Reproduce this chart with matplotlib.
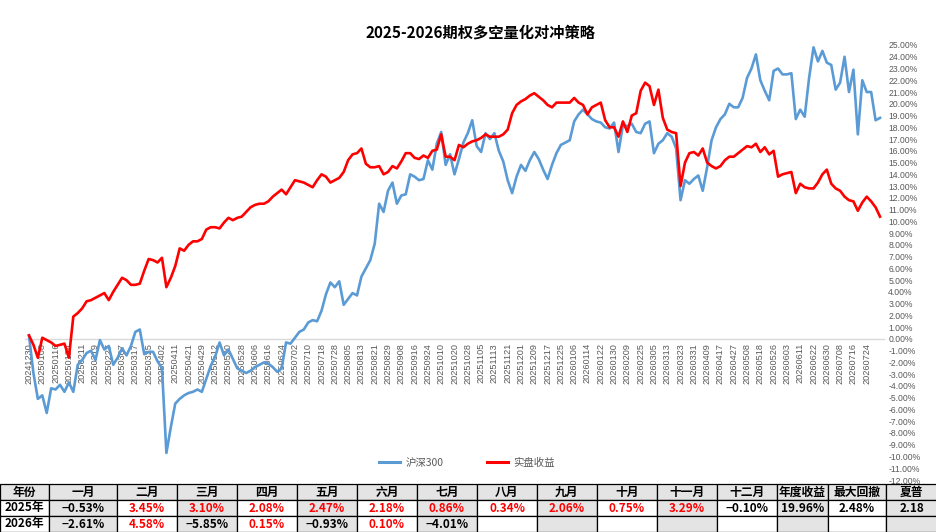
import numpy as np
import matplotlib
matplotlib.use('Agg')
import matplotlib.pyplot as plt
from matplotlib.lines import Line2D

plt.rcParams['font.family'] = ['Noto Sans CJK SC', 'DejaVu Sans']

title = '2025-2026期权多空量化对冲策略'

# date labels shown on the x axis (every 3rd point)
dates = ['20241230', '20250108', '20250116', '20250124', '20250211', '20250219',
         '20250227', '20250307', '20250317', '20250325', '20250402', '20250411',
         '20250421', '20250429', '20250512', '20250520', '20250528', '20250606',
         '20250616', '20250624', '20250702', '20250710', '20250718', '20250728',
         '20250805', '20250813', '20250821', '20250829', '20250908', '20250916',
         '20250924', '20251010', '20251020', '20251028', '20251105', '20251113',
         '20251121', '20251201', '20251209', '20251217', '20251225', '20260106',
         '20260114', '20260122', '20260130', '20260209', '20260225', '20260305',
         '20260313', '20260323', '20260331', '20260409', '20260417', '20260427',
         '20260508', '20260518', '20260526', '20260603', '20260611', '20260622',
         '20260630', '20260708', '20260716', '20260724']

# cumulative return in %
hs300 = [0.3, -2.9, -5.1, -4.8, -6.3, -4.2, -4.3, -3.9, -4.5, -3.7,
         -4.5, -2.2, -1.8, -1.2, -1.0, -1.8, -0.1, -0.9, -0.6, -2.2,
         -1.6, -0.8, -1.4, -0.6, 0.6, 0.8, -1.3, -1.1, -1.1, -1.9,
         -2.5, -9.7, -7.5, -5.5, -5.1, -4.8, -4.6, -4.5, -4.3, -4.5,
         -3.4, -2.3, -1.5, -0.3, -1.4, -0.9, -1.7, -2.5, -2.7, -2.9,
         -2.7, -2.4, -2.2, -2.0, -2.1, -2.4, -2.8, -2.5, -0.3, -0.4,
         0.1, 0.6, 0.8, 1.4, 1.6, 1.5, 2.4, 3.8, 4.8, 4.4,
         4.9, 2.9, 3.4, 3.9, 3.7, 5.3, 6.0, 6.7, 8.1, 11.5,
         10.8, 12.6, 13.3, 11.5, 12.2, 12.3, 14.0, 13.8, 13.5, 13.6,
         15.2, 14.4, 16.6, 17.6, 14.8, 15.7, 14.0, 15.3, 16.7, 17.5,
         18.6, 16.4, 15.9, 17.5, 17.0, 17.5, 16.0, 15.1, 13.5, 12.4,
         13.8, 14.8, 14.3, 15.2, 15.9, 15.3, 14.4, 13.6, 14.8, 15.8,
         16.5, 16.7, 16.9, 18.5, 19.1, 19.5, 19.1, 18.7, 18.5, 18.4,
         18.0, 17.9, 18.4, 15.9, 18.2, 18.1, 18.3, 17.6, 17.5, 18.3,
         18.5, 15.8, 16.6, 16.9, 17.5, 17.2, 16.2, 11.8, 13.5, 13.2,
         13.6, 13.9, 12.6, 14.6, 16.9, 18.0, 18.7, 19.1, 20.0, 19.7,
         19.7, 20.5, 22.2, 23.0, 24.2, 22.0, 21.1, 20.3, 22.8, 23.0,
         22.5, 22.5, 22.6, 18.7, 19.5, 18.9, 22.2, 24.8, 23.6, 24.5,
         23.5, 23.3, 21.2, 21.8, 24.0, 21.0, 22.9, 17.4, 22.0, 21.0,
         21.0, 18.6, 18.8]

strategy = [0.3, -0.5, -1.6, 0.1, -0.1, -0.3, -0.6, -0.5, -0.4, -1.6,
            1.9, 2.2, 2.6, 3.2, 3.3, 3.5, 3.7, 3.9, 3.3, 4.0,
            4.6, 5.2, 5.0, 4.6, 4.6, 4.7, 5.8, 6.8, 6.7, 6.5,
            6.9, 4.4, 5.2, 6.2, 7.7, 7.5, 8.0, 8.3, 8.3, 8.5,
            9.3, 9.5, 9.5, 9.4, 9.9, 10.3, 10.1, 10.3, 10.4, 10.8,
            11.2, 11.4, 11.5, 11.5, 11.7, 12.1, 12.4, 12.7, 12.3, 12.9,
            13.5, 13.4, 13.3, 13.1, 12.9, 13.5, 14.0, 13.8, 13.3, 13.5,
            13.7, 14.2, 15.2, 15.7, 15.8, 16.2, 14.9, 14.6, 14.6, 14.7,
            14.0, 14.2, 14.7, 14.5, 15.1, 15.8, 15.8, 15.4, 15.3, 15.6,
            15.4, 16.0, 16.1, 17.4, 15.5, 15.5, 15.2, 16.5, 16.3, 16.6,
            16.8, 16.9, 17.1, 17.4, 17.2, 17.2, 17.2, 17.4, 17.8, 19.2,
            19.9, 20.2, 20.4, 20.7, 20.9, 20.6, 20.3, 19.9, 19.7, 20.1,
            20.1, 20.1, 20.1, 20.5, 20.1, 19.9, 19.1, 19.7, 19.9, 20.1,
            18.6, 18.0, 18.0, 17.2, 18.5, 17.6, 19.0, 19.2, 21.1, 21.8,
            21.5, 19.9, 21.2, 18.8, 17.8, 17.6, 17.5, 13.0, 15.0, 15.8,
            15.9, 15.6, 16.2, 15.0, 14.7, 14.5, 14.7, 15.2, 15.5, 15.5,
            15.8, 16.1, 16.4, 16.3, 16.6, 15.9, 16.3, 15.7, 16.0, 13.8,
            14.0, 14.1, 14.2, 12.4, 13.2, 12.9, 12.8, 12.8, 13.3, 14.0,
            14.4, 13.2, 12.8, 12.6, 12.1, 11.8, 11.7, 10.9, 11.6, 12.1,
            11.7, 11.2, 10.4]

# monthly table
months = ['一月', '二月', '三月', '四月', '五月', '六月', '七月', '八月',
          '九月', '十月', '十一月', '十二月']
stat_names = ['年度收益', '最大回撤', '夏普']
m2025 = [-0.53, 3.45, 3.10, 2.08, 2.47, 2.18, 0.86, 0.34, 2.06, 0.75, 3.29, -0.10]
m2026 = [-2.61, 4.58, -5.85, 0.15, -0.93, 0.10, -4.01]
annual_2025 = 19.96
maxdd_2025 = 2.48
sharpe_2025 = 2.18

fig = plt.figure(figsize=(9.37, 5.32), dpi=100)

ax = fig.add_axes([25 / 937, 1 - 480 / 532, 859 / 937, 435 / 532])
x = np.arange(len(hs300))
ax.plot(x, hs300, color='#5b9bd5', lw=1.9, zorder=3, solid_joinstyle='round')
ax.plot(x, strategy, color='#ff0000', lw=1.9, zorder=4, solid_joinstyle='round')
ax.set_xlim(-0.9, 192.9)
ax.set_ylim(-12, 25)

for s in ['top', 'left', 'right']:
    ax.spines[s].set_visible(False)
ax.spines['bottom'].set_position(('data', 0))
ax.spines['bottom'].set_color('#d9d9d9')
ax.spines['bottom'].set_linewidth(1)

step = 3
ax.set_xticks(np.arange(len(dates)) * step, dates, rotation=90, fontsize=6.6,
              color='#595959', fontfamily='Liberation Sans')
ax.tick_params(axis='x', length=0, pad=3)

yt = np.arange(-12, 26, 1)
ax.set_yticks(yt, ['%.2f%%' % v for v in yt], fontsize=6.2, color='#595959',
              fontfamily='Liberation Sans')
ax.yaxis.tick_right()
ax.tick_params(axis='y', length=0, pad=3)
for lbl in ax.get_yticklabels():
    lbl.set_horizontalalignment('left')

fig.text(481 / 937, 1 - 33 / 532, title, ha='center', va='center',
         fontsize=11, fontweight='bold', color='black')

handles = [Line2D([], [], color='#5b9bd5', lw=2.2), Line2D([], [], color='#ff0000', lw=2.2)]
fig.legend(handles, ['沪深300', '实盘收益'], loc='center',
           bbox_to_anchor=(467 / 937, 1 - 463 / 532), ncol=2, frameon=False,
           fontsize=7.5, handlelength=2.0, columnspacing=4.2, handletextpad=0.5,
           labelcolor='#595959')

# table
def fmt(v):
    if v is None:
        return ''
    return ('%.2f%%' % v).replace('-', '−')

header = ['年份'] + months + stat_names
row25 = ['2025年'] + [fmt(v) for v in m2025] + [fmt(annual_2025), fmt(maxdd_2025), '%.2f' % sharpe_2025]
vals26 = m2026 + [None] * (12 - len(m2026))
row26 = ['2026年'] + [fmt(v) for v in vals26] + ['', '', '']
col_w = [49, 68] + [60] * 11 + [51, 58, 51]

gray = '#e4e4e4'
colours = [[gray] * len(header)]
for r in range(2):
    colours.append([gray if c % 2 == 1 else 'white' for c in range(len(header))])

tax = fig.add_axes([0, 0, 1, 48 / 532])
tax.axis('off')
tab = tax.table(cellText=[header, row25, row26], cellColours=colours,
                colWidths=[w / sum(col_w) for w in col_w], bbox=[0, 0, 1, 1],
                cellLoc='center')
tab.auto_set_font_size(False)
tab.set_fontsize(8.5)
row_vals = {1: m2025, 2: vals26}
for (r, c), cell in tab.get_celld().items():
    cell.set_edgecolor('black')
    cell.set_linewidth(0.9)
    t = cell.get_text()
    t.set_fontweight('bold')
    t.set_color('black')
    if r in row_vals and 1 <= c <= 12:
        v = row_vals[r][c - 1]
        if v is not None and v > 0:
            t.set_color('#ff0000')

fig.savefig('out.png', dpi=100)
